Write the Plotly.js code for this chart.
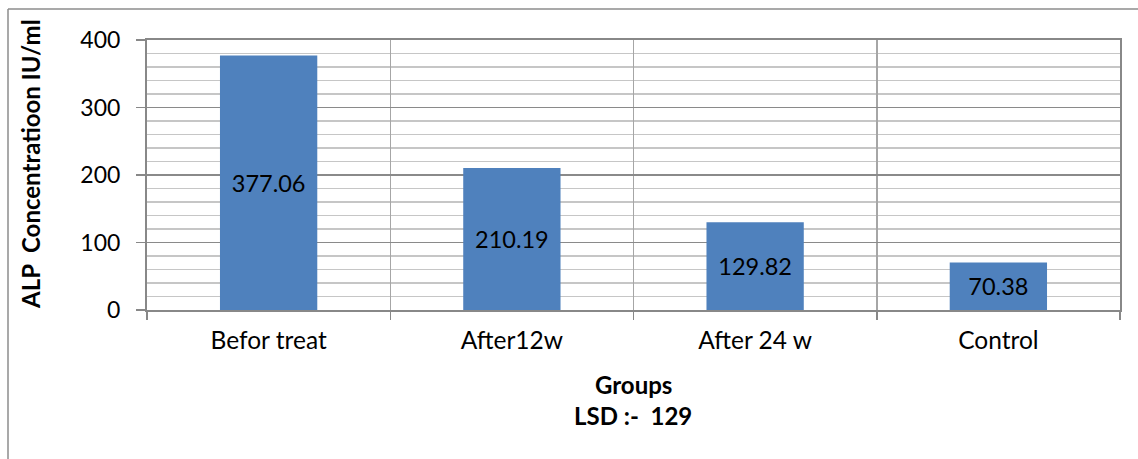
<!DOCTYPE html>
<html>
<head>
<meta charset="utf-8">
<script src="https://cdn.plot.ly/plotly-3.0.1.min.js"></script>
<style>
html,body{margin:0;padding:0;background:#fff;}
#chart{width:1138px;height:459px;}
</style>
</head>
<body>
<div id="chart"></div>
<script>
var categories = ["Befor treat", "After12w", "After 24 w", "Control"];
var values = [377.06, 210.19, 129.82, 70.38];
var labels = ["377.06", "210.19", "129.82", "70.38"];
var yTitle = "ALP&nbsp;&nbsp;Concentratioon IU/ml";
var xTitle = "Groups";
var xSubTitle = "LSD :-&nbsp;&nbsp;129";

var FONT = "Lato, Calibri, 'DejaVu Sans', sans-serif";

var trace = {
  type: "bar",
  x: categories,
  y: values,
  text: labels,
  textposition: "inside",
  insidetextanchor: "middle",
  textangle: 0,
  constraintext: "none",
  textfont: {family: FONT, size: 23.5, color: "#000"},
  marker: {color: "#4F81BD", line: {width: 0}},
  hoverinfo: "x+y"
};

var borderColor = "#8c8c8c";

var layout = {
  width: 1138,
  height: 459,
  margin: {l: 147, r: 18, t: 40, b: 149},
  paper_bgcolor: "#fff",
  plot_bgcolor: "#fff",
  showlegend: false,
  bargap: 0.6,
  font: {family: FONT, size: 22, color: "#000"},
  xaxis: {
    type: "category",
    tickson: "boundaries",
    ticks: "outside",
    ticklen: 8,
    tickcolor: "#888",
    tickwidth: 1.5,
    showgrid: true,
    gridcolor: "#a6a6a6",
    gridwidth: 1.5,
    showline: true,
    linecolor: "#888",
    linewidth: 2,
    mirror: true,
    ticklabelstandoff: 8,
    tickfont: {family: FONT, size: 24.5, color: "#000"},
    fixedrange: true
  },
  yaxis: {
    range: [0, 400],
    dtick: 100,
    ticks: "outside",
    ticklen: 9,
    tickcolor: "#888",
    tickwidth: 1.5,
    showgrid: true,
    gridcolor: "#8a8a8a",
    gridwidth: 1.5,
    zeroline: false,
    showline: true,
    linecolor: "#888",
    linewidth: 2,
    mirror: true,
    ticklabelstandoff: 11,
    tickfont: {family: FONT, size: 23, color: "#000"},
    minor: {dtick: 20, showgrid: true, gridcolor: "#c6c6c6", gridwidth: 1.2, ticks: ""},
    fixedrange: true
  },
  annotations: [
    {
      text: "<b>" + yTitle + "</b>",
      xref: "paper", yref: "paper",
      x: (30 - 147) / 973, y: (310 - 164) / 270,
      xanchor: "center", yanchor: "middle",
      textangle: -90, showarrow: false,
      font: {family: FONT, size: 24, color: "#000"}
    },
    {
      text: "<b>" + xTitle + "</b>",
      xref: "paper", yref: "paper",
      x: (633 - 147) / 973, y: (310 - 384) / 270,
      xanchor: "center", yanchor: "middle",
      showarrow: false,
      font: {family: FONT, size: 24, color: "#000"}
    },
    {
      text: "<b>" + xSubTitle + "</b>",
      xref: "paper", yref: "paper",
      x: (633 - 147) / 973, y: (310 - 415) / 270,
      xanchor: "center", yanchor: "middle",
      showarrow: false,
      font: {family: FONT, size: 24, color: "#000"}
    }
  ],
  shapes: [
    {type: "line", xref: "paper", yref: "paper",
     x0: (8 - 147) / 973, x1: (1138 - 147) / 973,
     y0: (310 - 9) / 270, y1: (310 - 9) / 270,
     line: {color: borderColor, width: 1.5}},
    {type: "line", xref: "paper", yref: "paper",
     x0: (8 - 147) / 973, x1: (8 - 147) / 973,
     y0: (310 - 9) / 270, y1: (310 - 470) / 270,
     line: {color: borderColor, width: 1.5}}
  ]
};

Plotly.newPlot("chart", [trace], layout, {displayModeBar: false, staticPlot: true});
</script>
</body>
</html>
